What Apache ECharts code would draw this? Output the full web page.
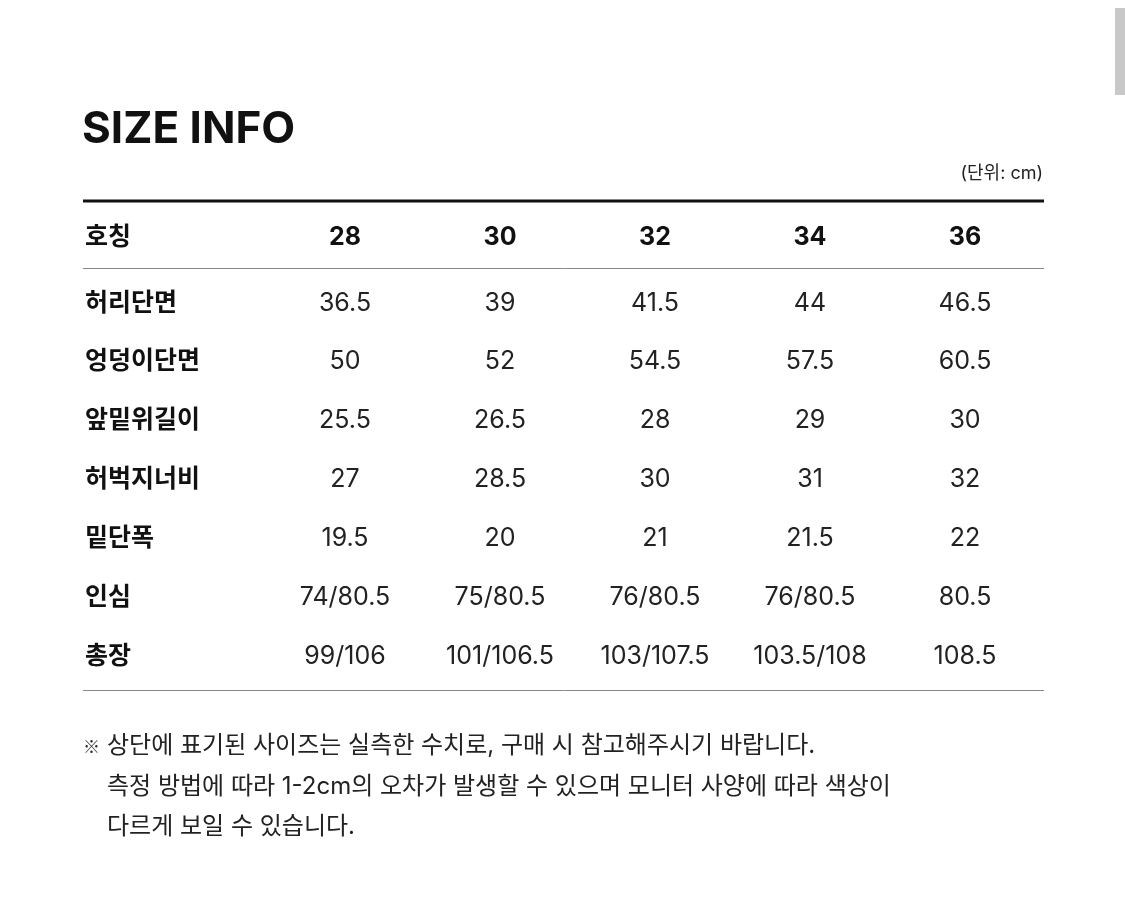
<!DOCTYPE html>
<html>
<head>
<meta charset="utf-8">
<script src="https://cdn.jsdelivr.net/npm/echarts@6/dist/echarts.min.js"></script>
<style>
  html, body { margin: 0; padding: 0; background: #fff; }
  #chart { width: 1125px; height: 902px; }
</style>
</head>
<body>
<div id="chart"></div>
<script>
const sizes = ['28', '30', '32', '34', '36'];
const rowLabels = ['허리단면', '엉덩이단면', '앞밑위길이', '허벅지너비', '밑단폭', '인심', '총장'];
const waist = ['36.5', '39', '41.5', '44', '46.5'];
const hip = ['50', '52', '54.5', '57.5', '60.5'];
const rise = ['25.5', '26.5', '28', '29', '30'];
const thigh = ['27', '28.5', '30', '31', '32'];
const hem = ['19.5', '20', '21', '21.5', '22'];
const inseam = ['74/80.5', '75/80.5', '76/80.5', '76/80.5', '80.5'];
const total = ['99/106', '101/106.5', '103/107.5', '103.5/108', '108.5'];
const notes = [
    '상단에 표기된 사이즈는 실측한 수치로, 구매 시 참고해주시기 바랍니다.',
    '측정 방법에 따라 1-2cm의 오차가 발생할 수 있으며 모니터 사양에 따라 색상이',
    '다르게 보일 수 있습니다.'
];

const rows = [waist, hip, rise, thigh, hem, inseam, total];
const font = '"Inter", "Noto Sans CJK KR", "Noto Sans", sans-serif';
const colX = [345, 500, 655, 810, 965];
const left = 83, right = 1044;

function txt(x, y, s, size, weight, align, color, family) {
    return {
        type: 'text', x: x, y: y,
        style: {
            text: s, fontSize: size, fontWeight: weight || 'normal',
            fontFamily: family || font, fill: color || '#111',
            align: align || 'left', verticalAlign: 'middle'
        }
    };
}

function line(y, w, color) {
    return { type: 'line', shape: { x1: left, y1: y, x2: right, y2: y }, style: { stroke: color, lineWidth: w } };
}

let g = [];
// scrollbar hint at the right edge
g.push({ type: 'rect', shape: { x: 1115, y: 8, width: 10, height: 87 }, style: { fill: '#c8c8c8' } });
g.push(txt(82, 130, 'SIZE INFO', 44, 'bold', 'left', '#111'));
g.push(txt(1043, 174, '(단위: cm)', 18, 'normal', 'right', '#222'));
g.push(line(201, 3, '#111'));
g.push(txt(85, 237, '호칭', 25, 'bold'));
sizes.forEach(function (s, i) { g.push(txt(colX[i], 237, s, 25, 'bold', 'center')); });
g.push(line(268.5, 1, '#888'));

rows.forEach(function (vals, r) {
    let y = 303 + r * 58.9;
    g.push(txt(85, y, rowLabels[r], 25, 'bold'));
    vals.forEach(function (v, i) { g.push(txt(colX[i], y, v, 25, 'normal', 'center', '#222')); });
});
g.push(line(690.5, 1, '#888'));

g.push(txt(83, 747, '※', 17, 'normal', 'left', '#333', '"Noto Sans CJK KR"'));
notes.forEach(function (n, i) { g.push(txt(107, 746 + i * 40.5, n, 24, 'normal', 'left', '#222')); });

let chart = echarts.init(document.getElementById('chart'), null, { renderer: 'canvas' });
chart.setOption({ animation: false, graphic: { elements: g } });
</script>
</body>
</html>
